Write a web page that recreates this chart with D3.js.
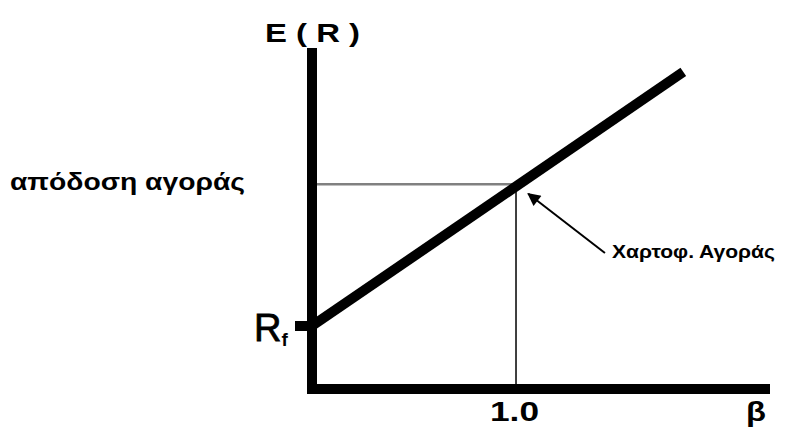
<!DOCTYPE html>
<html>
<head>
<meta charset="utf-8">
<script src="https://cdn.jsdelivr.net/npm/d3@7"></script>
<style>
body{margin:0;background:#fff;}
.lbl{font-family:"Liberation Sans",Arial,sans-serif;font-weight:bold;fill:#000;}
</style>
</head>
<body>
<div id="chart"></div>
<script>
var w=804;
var h=434;

// values (E(R) in %, beta)
var rf=4;
var rm=13;
var betaMarket=1.0;
var betaMax=2.245;
var betaLineEnd=1.82;
var erMax=21.65;
var smlPoints=[{b:0,er:rf},{b:betaLineEnd,er:rf+(rm-rf)*betaLineEnd*0.985}];
var arrowPts=[{b:1.436,er:8.63},{b:1.06,er:12.4}];
var labels={y:"E ( R )",x:"β",market:"απόδοση αγοράς",beta1:"1.0",port:"Χαρτοφ. Αγοράς"};

var xScale=d3.scaleLinear().domain([0,betaMax]).range([312,770]);
var yScale=d3.scaleLinear().domain([0,erMax]).range([389,48]);

var svg=d3.select("#chart").append("svg")
  .attr("width",w).attr("height",h);

svg.append("defs").append("marker")
  .attr("id","arr").attr("viewBox","0 0 10 10")
  .attr("refX",9).attr("refY",5)
  .attr("markerWidth",15).attr("markerHeight",13)
  .attr("markerUnits","userSpaceOnUse")
  .attr("orient","auto")
  .append("path").attr("d","M0,0L10,5L0,10z").attr("fill","#000");

// guide lines to the market portfolio
svg.append("line")
  .attr("x1",xScale(0)).attr("x2",xScale(betaMarket))
  .attr("y1",yScale(rm)).attr("y2",yScale(rm))
  .attr("stroke","#808080").attr("stroke-width",2.5);
svg.append("line")
  .attr("x1",xScale(betaMarket)).attr("x2",xScale(betaMarket))
  .attr("y1",yScale(rm)).attr("y2",yScale(0))
  .attr("stroke","#000").attr("stroke-width",1.5);

// security market line
var sml=d3.line()
  .x(function(d){return xScale(d.b);})
  .y(function(d){return yScale(d.er);});
svg.append("path").datum(smlPoints)
  .attr("d",sml).attr("fill","none")
  .attr("stroke","#000").attr("stroke-width",10);

// axes (thick, no ticks)
svg.append("line")
  .attr("x1",xScale(0)).attr("x2",xScale(0))
  .attr("y1",yScale(erMax)).attr("y2",yScale(0)+5)
  .attr("stroke","#000").attr("stroke-width",10);
svg.append("line")
  .attr("x1",xScale(0)-5).attr("x2",xScale(betaMax))
  .attr("y1",yScale(0)).attr("y2",yScale(0))
  .attr("stroke","#000").attr("stroke-width",10);
// Rf tick
svg.append("line")
  .attr("x1",xScale(0)-17).attr("x2",xScale(0))
  .attr("y1",yScale(rf)).attr("y2",yScale(rf))
  .attr("stroke","#000").attr("stroke-width",10);

// arrow
svg.append("line")
  .attr("x1",xScale(arrowPts[0].b)).attr("y1",yScale(arrowPts[0].er))
  .attr("x2",xScale(arrowPts[1].b)).attr("y2",yScale(arrowPts[1].er))
  .attr("stroke","#000").attr("stroke-width",2)
  .attr("marker-end","url(#arr)");

// text, stretched sideways like the source
function label(txt,x,y,size,len){
  return svg.append("text").attr("class","lbl")
    .attr("x",x).attr("y",y)
    .style("font-size",size+"px")
    .attr("textLength",len).attr("lengthAdjust","spacingAndGlyphs")
    .text(txt);
}
label(labels.y,265,42,26,95);
label(labels.market,10,190,23,235);
label(labels.beta1,490,421,28,49);
label(labels.x,746,421,28,20);
label(labels.port,612,258,19,163);

var rfText=svg.append("text").attr("class","lbl")
  .attr("x",254).attr("y",yScale(rf)+15);
rfText.append("tspan").style("font-size","38px").style("font-weight","normal")
  .style("stroke","#000").style("stroke-width",0.8).text("R");
rfText.append("tspan").style("font-size","19px").attr("dy",5).text("f");
</script>
</body>
</html>
